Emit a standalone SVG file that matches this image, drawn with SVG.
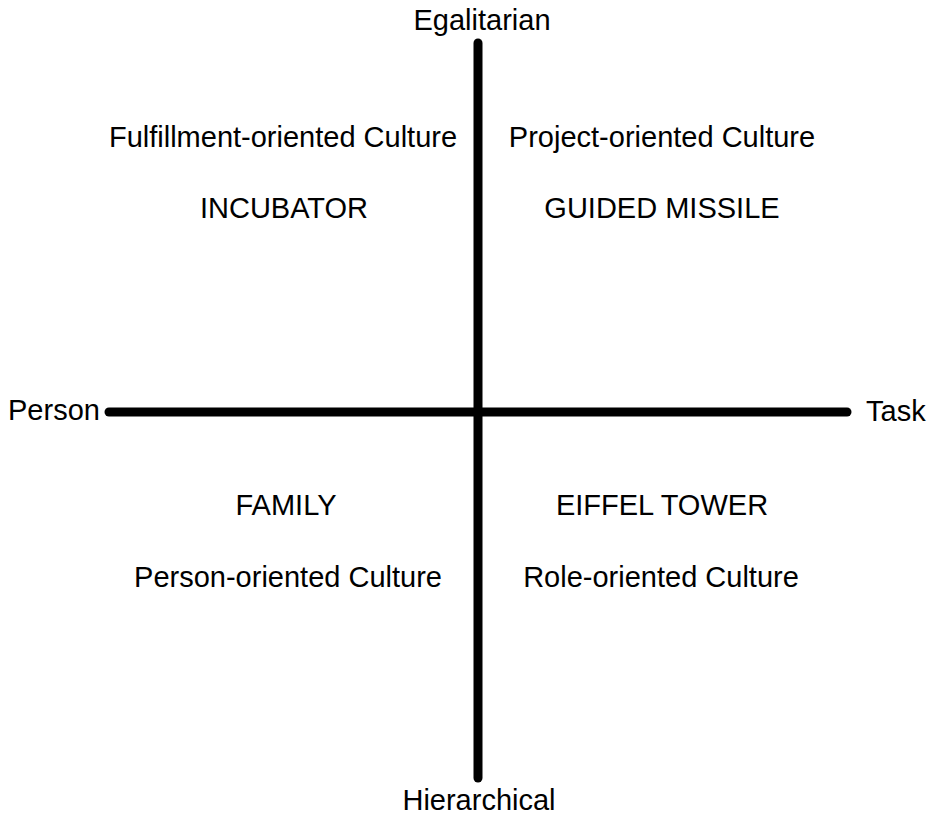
<svg xmlns="http://www.w3.org/2000/svg" width="934" height="815" viewBox="0 0 934 815">
<style>
text{font-family:"Liberation Sans",Arial,sans-serif;font-size:29px;fill:#000}
.c{text-anchor:middle}
.axis{stroke:#000;stroke-width:9;stroke-linecap:round;fill:none}
</style>
<rect width="934" height="815" fill="#fff"/>
<g id="connectors">
<line class="axis" x1="478" y1="43" x2="478" y2="778"/>
<line class="axis" x1="109" y1="412" x2="847" y2="412"/>
</g>
<g id="egalitarian"><text class="c" x="482" y="30">Egalitarian</text></g>
<g id="hierarchical"><text class="c" x="479" y="810">Hierarchical</text></g>
<g id="person"><text x="8" y="420">Person</text></g>
<g id="task"><text x="866" y="421">Task</text></g>
<g id="incubator">
<text class="c" x="283" y="147">Fulfillment-oriented Culture</text>
<text class="c" x="284" y="218">INCUBATOR</text>
</g>
<g id="guided-missile">
<text class="c" x="662" y="147">Project-oriented Culture</text>
<text class="c" x="662" y="218">GUIDED MISSILE</text>
</g>
<g id="family">
<text class="c" x="286" y="515">FAMILY</text>
<text class="c" x="288" y="587">Person-oriented Culture</text>
</g>
<g id="eiffel-tower">
<text class="c" x="662" y="515">EIFFEL TOWER</text>
<text class="c" x="661" y="587">Role-oriented Culture</text>
</g>
</svg>
